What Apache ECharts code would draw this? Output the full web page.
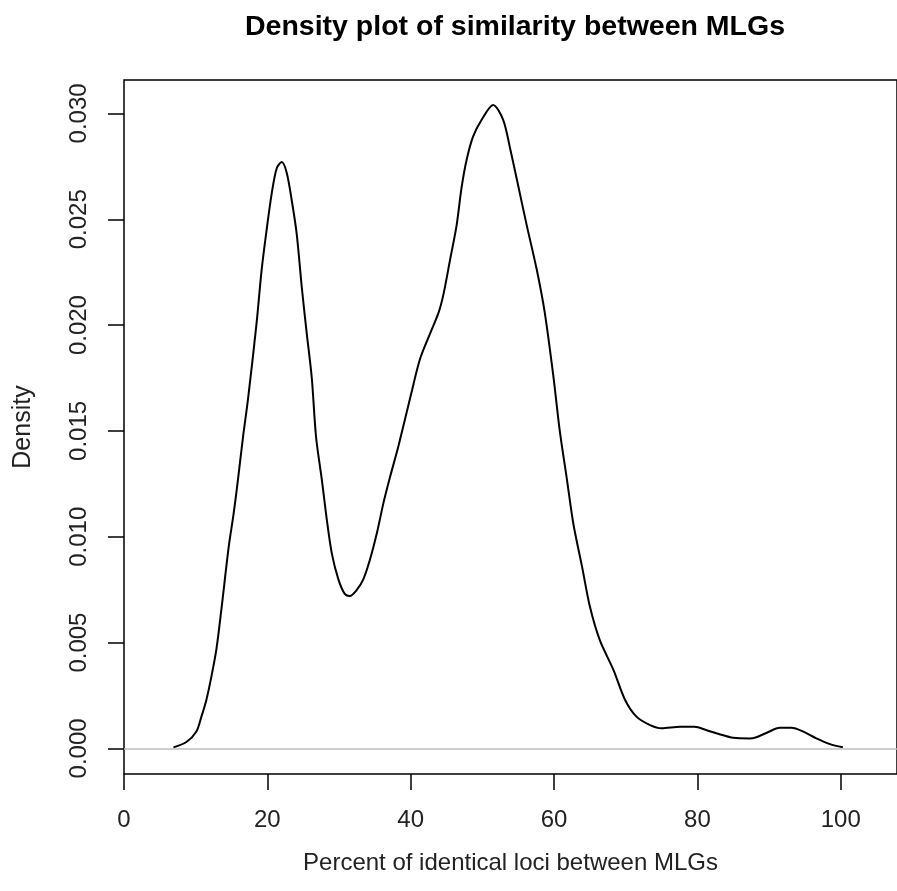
<!DOCTYPE html>
<html>
<head>
<meta charset="utf-8">
<script src="https://cdn.jsdelivr.net/npm/echarts@6/dist/echarts.min.js"></script>
<style>
  html, body { margin: 0; padding: 0; background: #fff; }
  #chart { width: 897px; height: 891px; }
</style>
</head>
<body>
<div id="chart"></div>
<script>
// Kernel density estimate of pairwise similarity (percent identical loci)
const percentIdentical = [
  6.9, 8.7, 10.1, 10.8, 11.5, 12.2, 12.9, 13.6, 14.6, 15.3, 15.9, 16.6, 17.3,
  18.5, 19.2, 19.9, 20.6, 21.3, 22.0, 22.7, 23.4, 24.1, 24.8, 25.5, 26.2,
  26.8, 27.6, 28.3, 29.0, 29.9, 30.8, 31.5, 32.5, 33.4, 34.3, 35.3, 36.2,
  37.1, 38.3, 40.1, 41.3, 42.7, 43.9, 44.6, 45.5, 46.4, 47.1, 47.8, 48.7,
  49.9, 51.5, 52.9, 53.9, 54.8, 56.2, 57.6, 58.7, 59.9, 60.8, 61.8, 62.7,
  63.9, 65.0, 66.4, 68.3, 69.9, 71.5, 73.4, 75.0, 77.6, 79.6, 81.3, 83.0,
  85.0, 87.3, 88.0, 89.7, 91.5, 93.1, 94.8, 96.6, 98.5, 100.3
];
const density = [
  0.00005, 0.0003, 0.0008, 0.0015, 0.0023, 0.0034, 0.0047, 0.0066, 0.0095,
  0.0111, 0.0127, 0.0147, 0.0165, 0.0201, 0.0226, 0.0245, 0.0262, 0.0274,
  0.0277, 0.0272, 0.0259, 0.0243, 0.0218, 0.0196, 0.0175, 0.0147, 0.0127,
  0.0108, 0.0092, 0.0080, 0.0073, 0.0072, 0.0075, 0.0080, 0.0089, 0.0102,
  0.0116, 0.0128, 0.0143, 0.0168, 0.0184, 0.0196, 0.0206, 0.0215, 0.0231,
  0.0247, 0.0265, 0.0278, 0.0289, 0.0297, 0.0304, 0.0297, 0.0283, 0.0269,
  0.0247, 0.0226, 0.0206, 0.0176, 0.0150, 0.0127, 0.0106, 0.0086, 0.0067,
  0.0051, 0.0037, 0.0023, 0.0015, 0.0011, 0.00095, 0.00102, 0.00102,
  0.00086, 0.00068, 0.0005, 0.00047, 0.0005, 0.00074, 0.00097, 0.00097,
  0.00079, 0.00047, 0.0002, 0.00005
];
const xTicks = [0, 20, 40, 60, 80, 100];
const yTicks = [0, 0.005, 0.010, 0.015, 0.020, 0.025, 0.030];

const chart = echarts.init(document.getElementById('chart'), null, { renderer: 'canvas' });
const font = 'Liberation Sans, Arial, sans-serif';

chart.setOption({
  animation: false,
  backgroundColor: '#fff',
  title: {
    text: 'Density plot of similarity between MLGs',
    left: 510,
    top: 8,
    textAlign: 'center',
    textStyle: { fontFamily: font, fontWeight: 'bold', fontSize: 28.5, color: '#000' }
  },
  grid: {
    left: 124, top: 80, right: 0, bottom: 117,
    show: true, borderColor: '#000', borderWidth: 1.5, backgroundColor: 'transparent'
  },
  xAxis: {
    type: 'value',
    min: 0, max: 107.85,
    name: 'Percent of identical loci between MLGs',
    nameLocation: 'middle',
    nameGap: 77,
    nameTextStyle: { fontFamily: font, fontSize: 24, color: '#222' },
    axisLine: { show: false, onZero: false },
    splitLine: { show: false },
    axisTick: {
      show: true, length: 16, inside: false, customValues: xTicks,
      lineStyle: { color: '#000', width: 1.5 }
    },
    axisLabel: {
      customValues: xTicks, margin: 34,
      fontFamily: font, fontSize: 24, color: '#222'
    }
  },
  yAxis: {
    type: 'value',
    min: -0.00121, max: 0.03158,
    name: 'Density',
    nameLocation: 'middle',
    nameGap: 88,
    nameTextStyle: { fontFamily: font, fontSize: 25, color: '#222' },
    axisLine: { show: false, onZero: false },
    splitLine: { show: false },
    axisTick: {
      show: true, length: 16, inside: false, customValues: yTicks,
      lineStyle: { color: '#000', width: 1.5 }
    },
    axisLabel: {
      customValues: yTicks, margin: 33, rotate: 90,
      fontFamily: font, fontSize: 24, color: '#222',
      formatter: v => v.toFixed(3)
    }
  },
  series: [{
    type: 'line',
    data: percentIdentical.map((x, i) => [x, density[i]]),
    showSymbol: false,
    smooth: 0.3,
    lineStyle: { color: '#000', width: 2 },
    markLine: {
      silent: true,
      symbol: 'none',
      label: { show: false },
      lineStyle: { color: '#bebebe', width: 1.5, type: 'solid' },
      data: [{ yAxis: 0 }]
    }
  }]
});
</script>
</body>
</html>
